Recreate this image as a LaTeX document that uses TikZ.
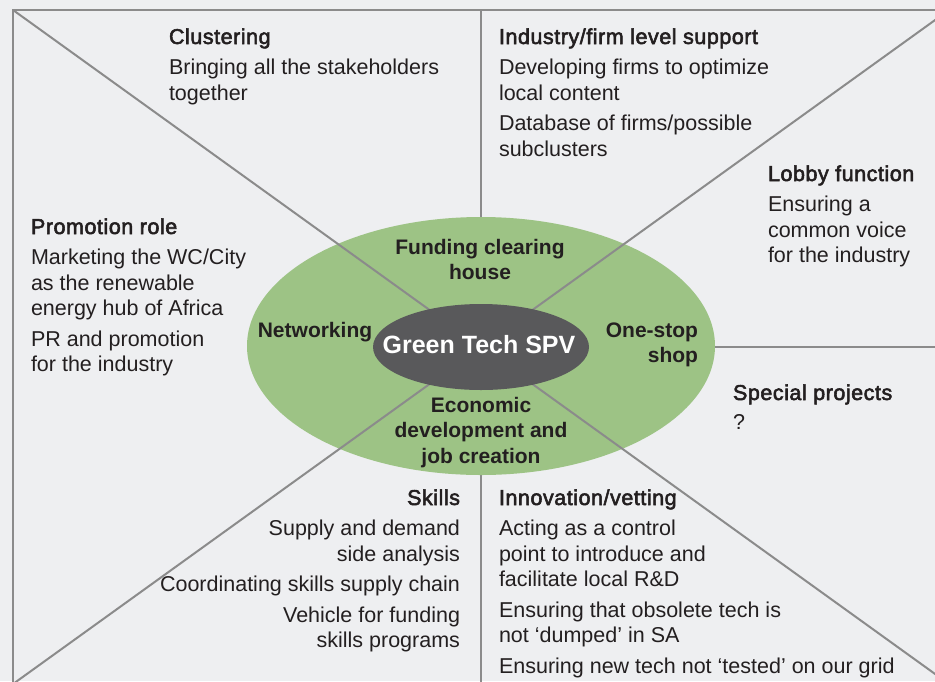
\documentclass[tikz,border=0pt]{standalone}
\usepackage{fontspec}
\setmainfont{Liberation Sans}
\newfontfamily\headfont{Liberation Sans}[LetterSpace=2.5]
\usetikzlibrary{shapes.geometric}
\definecolor{bg}{HTML}{EEEFF1}
\definecolor{rulegrey}{HTML}{8B8B8B}
\definecolor{leaf}{HTML}{9DC385}
\definecolor{core}{HTML}{59595B}
\definecolor{ink}{HTML}{231F20}
\newcommand{\hd}[1]{{\headfont\special{pdf:literal direct 2 Tr 0.55 w}#1\special{pdf:literal direct 0 Tr}}}
\begin{document}
\begin{tikzpicture}[x=1pt,y=-1pt,
  frame/.style={draw=rulegrey, line width=2.6pt},
  divider/.style={draw=rulegrey, line width=2pt},
  blk/.style={inner sep=0pt, outer sep=0pt, text=ink, font=\fontsize{21.5}{25.5}\selectfont},
  lbl/.style={inner sep=0pt, outer sep=0pt, text=ink, font=\fontsize{21}{25.5}\selectfont\bfseries}]
\fill[bg] (0,0) rectangle (935,681);
\useasboundingbox (0,0) rectangle (935,681);
\clip (0,0) rectangle (935,681);
% frame corners and centre
\coordinate (tl) at (13,10);
\coordinate (tr) at (949,10);
\coordinate (bl) at (13,684);
\coordinate (br) at (949,684);
\coordinate (tm) at (481,10);
\coordinate (bm) at (481,684);
\coordinate (rm) at (949,347);
\coordinate (c) at (481,347);
\draw[frame] (tl) rectangle (br);
\draw[divider] (tm) -- (bm);
\draw[divider] (c) -- (rm);
% outer ellipse
\node[ellipse, fill=leaf, draw=none, minimum width=468pt, minimum height=258pt, inner sep=0pt] (outer) at (481,346) {};
% diagonals cross the green ring
\draw[divider] (tl) -- (br);
\draw[divider] (bl) -- (tr);
% inner ellipse
\fill[core] (c) ellipse [x radius=108, y radius=43];
\node[inner sep=0pt, text=white, font=\fontsize{25}{29}\selectfont\bfseries] (spv) at (479,345) {Green Tech SPV};
% ellipse labels
\node[lbl, anchor=base] (fund) at (480,254) {\begin{tabular}[t]{@{}c@{}}Funding clearing\\house\end{tabular}};
\node[lbl, anchor=base] (net) at (315,337) {Networking};
\node[lbl, anchor=base east] (one) at (698,337) {\begin{tabular}[t]{@{}r@{}}One-stop\\shop\end{tabular}};
\node[lbl, anchor=base] (econ) at (481,412) {\begin{tabular}[t]{@{}c@{}}Economic\\development and\\job creation\end{tabular}};
% outer blocks
\node[blk, anchor=base west] (clus) at (169,44) {\begin{tabular}[t]{@{}l@{}}\hd{Clustering}\\[5pt]
  Bringing all the stakeholders\\together\end{tabular}};
\node[blk, anchor=base west] (ind) at (499,44) {\begin{tabular}[t]{@{}l@{}}\hd{Industry/firm level support}\\[5pt]
  Developing firms to optimize\\local content\\[5pt]Database of firms/possible\\subclusters\end{tabular}};
\node[blk, anchor=base west] (lobby) at (768,181) {\begin{tabular}[t]{@{}l@{}}\hd{Lobby function}\\[5pt]
  Ensuring a\\common voice\\for the industry\end{tabular}};
\node[blk, anchor=base west] (promo) at (31,234) {\begin{tabular}[t]{@{}l@{}}\hd{Promotion role}\\[5pt]
  Marketing the WC/City\\as the renewable\\energy hub of Africa\\[5pt]PR and promotion\\for the industry\end{tabular}};
\node[blk, anchor=base west] (spec) at (733,400) {\begin{tabular}[t]{@{}l@{}}\hd{Special projects}\\[4pt]?\end{tabular}};
\node[blk, anchor=base east] (skills) at (460,505) {\begin{tabular}[t]{@{}r@{}}\hd{Skills}\\[5pt]
  Supply and demand\\side analysis\\[5pt]Coordinating skills supply chain\\[5pt]Vehicle for funding\\skills programs\end{tabular}};
\node[blk, anchor=base west] (innov) at (499,505) {\begin{tabular}[t]{@{}l@{}}\hd{Innovation/vetting}\\[5pt]
  Acting as a control\\point to introduce and\\facilitate local R\&D\\[5pt]Ensuring that obsolete tech is\\not ‘dumped’ in SA\\[5pt]Ensuring new tech not ‘tested’ on our grid\end{tabular}};
\end{tikzpicture}
\end{document}
